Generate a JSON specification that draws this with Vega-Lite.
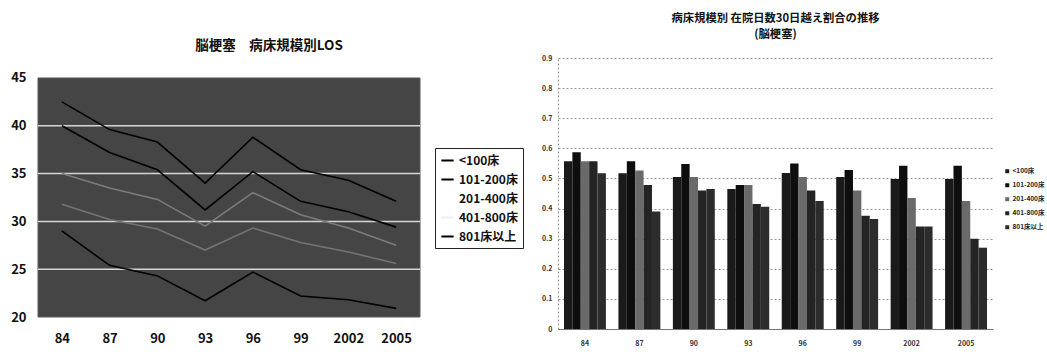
{
  "$schema": "https://vega.github.io/schema/vega-lite/v6.json",
  "background": "white",
  "padding": {"left": 10, "top": 12, "right": 0, "bottom": 0},
  "spacing": 17,
  "config": {"font": "Noto Sans CJK JP"},
  "resolve": {"scale": {"color": "independent", "x": "independent", "y": "independent"}, "legend": {"color": "independent"}},
  "datasets": {
    "los": [
      {"year": "84", "series": "<100床", "los": 42.5},
      {"year": "87", "series": "<100床", "los": 39.6},
      {"year": "90", "series": "<100床", "los": 38.3},
      {"year": "93", "series": "<100床", "los": 34.0},
      {"year": "96", "series": "<100床", "los": 38.8},
      {"year": "99", "series": "<100床", "los": 35.4},
      {"year": "2002", "series": "<100床", "los": 34.3},
      {"year": "2005", "series": "<100床", "los": 32.1},
      {"year": "84", "series": "101-200床", "los": 40.0},
      {"year": "87", "series": "101-200床", "los": 37.2},
      {"year": "90", "series": "101-200床", "los": 35.4},
      {"year": "93", "series": "101-200床", "los": 31.2},
      {"year": "96", "series": "101-200床", "los": 35.2},
      {"year": "99", "series": "101-200床", "los": 32.1},
      {"year": "2002", "series": "101-200床", "los": 31.0},
      {"year": "2005", "series": "101-200床", "los": 29.4},
      {"year": "84", "series": "201-400床", "los": 35.0},
      {"year": "87", "series": "201-400床", "los": 33.5},
      {"year": "90", "series": "201-400床", "los": 32.3},
      {"year": "93", "series": "201-400床", "los": 29.5},
      {"year": "96", "series": "201-400床", "los": 33.0},
      {"year": "99", "series": "201-400床", "los": 30.7},
      {"year": "2002", "series": "201-400床", "los": 29.3},
      {"year": "2005", "series": "201-400床", "los": 27.5},
      {"year": "84", "series": "401-800床", "los": 31.8},
      {"year": "87", "series": "401-800床", "los": 30.2},
      {"year": "90", "series": "401-800床", "los": 29.2},
      {"year": "93", "series": "401-800床", "los": 27.0},
      {"year": "96", "series": "401-800床", "los": 29.3},
      {"year": "99", "series": "401-800床", "los": 27.8},
      {"year": "2002", "series": "401-800床", "los": 26.8},
      {"year": "2005", "series": "401-800床", "los": 25.6},
      {"year": "84", "series": "801床以上", "los": 29.0},
      {"year": "87", "series": "801床以上", "los": 25.4},
      {"year": "90", "series": "801床以上", "los": 24.3},
      {"year": "93", "series": "801床以上", "los": 21.7},
      {"year": "96", "series": "801床以上", "los": 24.7},
      {"year": "99", "series": "801床以上", "los": 22.2},
      {"year": "2002", "series": "801床以上", "los": 21.8},
      {"year": "2005", "series": "801床以上", "los": 20.9}
    ],
    "ratio": [
      {"year": "84", "series": "<100床", "ratio": 0.557},
      {"year": "84", "series": "101-200床", "ratio": 0.587},
      {"year": "84", "series": "201-400床", "ratio": 0.557},
      {"year": "84", "series": "401-800床", "ratio": 0.557},
      {"year": "84", "series": "801床以上", "ratio": 0.517},
      {"year": "87", "series": "<100床", "ratio": 0.517},
      {"year": "87", "series": "101-200床", "ratio": 0.557},
      {"year": "87", "series": "201-400床", "ratio": 0.526},
      {"year": "87", "series": "401-800床", "ratio": 0.478},
      {"year": "87", "series": "801床以上", "ratio": 0.39},
      {"year": "90", "series": "<100床", "ratio": 0.505},
      {"year": "90", "series": "101-200床", "ratio": 0.548},
      {"year": "90", "series": "201-400床", "ratio": 0.505},
      {"year": "90", "series": "401-800床", "ratio": 0.46},
      {"year": "90", "series": "801床以上", "ratio": 0.465},
      {"year": "93", "series": "<100床", "ratio": 0.465},
      {"year": "93", "series": "101-200床", "ratio": 0.478},
      {"year": "93", "series": "201-400床", "ratio": 0.478},
      {"year": "93", "series": "401-800床", "ratio": 0.415},
      {"year": "93", "series": "801床以上", "ratio": 0.406},
      {"year": "96", "series": "<100床", "ratio": 0.518},
      {"year": "96", "series": "101-200床", "ratio": 0.55},
      {"year": "96", "series": "201-400床", "ratio": 0.505},
      {"year": "96", "series": "401-800床", "ratio": 0.46},
      {"year": "96", "series": "801床以上", "ratio": 0.425},
      {"year": "99", "series": "<100床", "ratio": 0.505},
      {"year": "99", "series": "101-200床", "ratio": 0.528},
      {"year": "99", "series": "201-400床", "ratio": 0.46},
      {"year": "99", "series": "401-800床", "ratio": 0.376},
      {"year": "99", "series": "801床以上", "ratio": 0.365},
      {"year": "2002", "series": "<100床", "ratio": 0.498},
      {"year": "2002", "series": "101-200床", "ratio": 0.542},
      {"year": "2002", "series": "201-400床", "ratio": 0.435},
      {"year": "2002", "series": "401-800床", "ratio": 0.34},
      {"year": "2002", "series": "801床以上", "ratio": 0.34},
      {"year": "2005", "series": "<100床", "ratio": 0.498},
      {"year": "2005", "series": "101-200床", "ratio": 0.542},
      {"year": "2005", "series": "201-400床", "ratio": 0.425},
      {"year": "2005", "series": "401-800床", "ratio": 0.30},
      {"year": "2005", "series": "801床以上", "ratio": 0.27}
    ]
  },
  "hconcat": [
    {
      "width": 382,
      "height": 259,
      "title": {"text": "脳梗塞　病床規模別LOS", "fontSize": 13.5, "fontWeight": "bold", "offset": 6, "dx": 40, "color": "#111"},
      "view": {"stroke": null},
      "layer": [
        {
          "data": {"values": [{"lo": 20, "hi": 45}]},
          "mark": {"type": "rect", "color": "#454545", "stroke": "#5a5a5a"},
          "encoding": {
            "x": {"value": 0},
            "x2": {"value": "width"},
            "y": {"field": "lo", "type": "quantitative", "title": null},
            "y2": {"field": "hi"}
          }
        },
        {
          "data": {"values": [{"g": 25}, {"g": 30}, {"g": 35}, {"g": 40}]},
          "mark": {"type": "rule", "color": "#d5d5d5", "strokeWidth": 1.5},
          "encoding": {
            "y": {"field": "g", "type": "quantitative", "title": null}
          }
        },
        {
          "data": {"name": "los"},
          "mark": {"type": "line", "strokeWidth": 1.6},
          "encoding": {
            "x": {"field": "year", "type": "ordinal", "sort": null, "title": null,
              "axis": {"domain": false, "ticks": false, "grid": false, "labelAngle": 0, "labelFontSize": 13, "labelFontWeight": "bold", "labelPadding": 15, "labelColor": "#111"}},
            "y": {"field": "los", "type": "quantitative", "title": null,
              "scale": {"domain": [20, 47.09], "nice": false, "zero": false},
              "axis": {"values": [20, 25, 30, 35, 40, 45], "domain": false, "ticks": false, "grid": false, "labelFontSize": 13, "labelFontWeight": "bold", "labelPadding": 12, "labelColor": "#111"}},
            "color": {"field": "series", "type": "nominal",
              "scale": {"domain": ["<100床", "101-200床", "201-400床", "401-800床", "801床以上"], "range": ["#000000", "#000000", "#7c7c7c", "#747474", "#000000"]},
              "legend": {"title": null, "orient": "none", "legendX": 397, "legendY": 90, "symbolType": "stroke", "symbolStrokeWidth": 2, "symbolSize": 150,
                "labelFontSize": 12, "labelFontWeight": "bold", "labelColor": "#111", "rowPadding": 5, "padding": 5,
                "strokeColor": "#222", "fillColor": "#ffffff",
                "encode": {"symbols": {"update": {"strokeOpacity": {"signal": "datum.value == '201-400床' ? 0 : (datum.value == '401-800床' ? 0.12 : 1)"}}}}}}
          }
        }
      ]
    },
    {
      "width": 435,
      "height": 271,
      "data": {"name": "ratio"},
      "title": {"text": ["病床規模別 在院日数30日越え割合の推移", "(脳梗塞)"], "fontSize": 11.3, "fontWeight": "bold", "lineHeight": 16, "offset": 14, "color": "#111"},
      "view": {"stroke": null},
      "mark": {"type": "bar"},
      "encoding": {
        "x": {"field": "year", "type": "ordinal", "sort": null, "title": null,
          "scale": {"paddingInner": 0.23, "paddingOuter": 0.11},
          "axis": {"domainColor": "#777", "ticks": false, "labelAngle": 0, "labelFontSize": 7, "labelFontWeight": "bold", "labelPadding": 10, "labelColor": "#333"}},
        "xOffset": {"field": "series", "type": "nominal", "sort": ["<100床", "101-200床", "201-400床", "401-800床", "801床以上"]},
        "y": {"field": "ratio", "type": "quantitative", "title": null,
          "scale": {"domain": [0, 0.9], "nice": false},
          "axis": {"values": [0, 0.1, 0.2, 0.3, 0.4, 0.5, 0.6, 0.7, 0.8, 0.9], "labelExpr": "datum.value == 0 ? '0' : format(datum.value, '.1f')",
            "domainColor": "#999", "domainDash": [2, 2], "ticks": false, "labelFontSize": 7, "labelFontWeight": "bold", "labelPadding": 6, "labelColor": "#333",
            "grid": true, "gridColor": "#999", "gridDash": [2, 2]}},
        "color": {"field": "series", "type": "nominal",
          "scale": {"domain": ["<100床", "101-200床", "201-400床", "401-800床", "801床以上"], "range": ["#1a1a1a", "#0e0e0e", "#6a6a6a", "#242424", "#2c2c2c"]},
          "legend": {"title": null, "orient": "none", "legendX": 446, "legendY": 110, "symbolType": "square", "symbolSize": 16,
            "labelFontSize": 6.5, "labelFontWeight": "bold", "labelColor": "#222", "rowPadding": 7, "labelOffset": 2}}
      }
    }
  ]
}
